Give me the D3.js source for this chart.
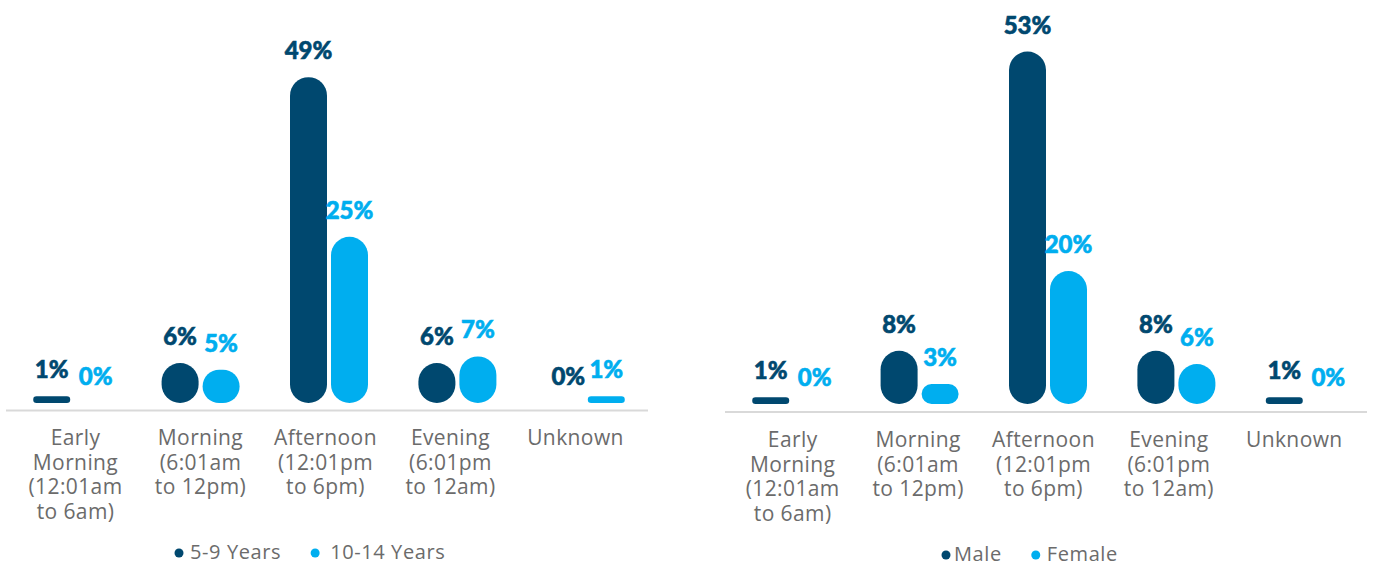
<!DOCTYPE html>
<html>
<head>
<meta charset="utf-8">
<script src="https://cdn.jsdelivr.net/npm/d3@7"></script>
<style>
  body { margin: 0; background: #fff; }
  svg { display: block; }
</style>
</head>
<body>
<script>
// categories, split into the lines shown under the axis
var categoryLines = [
  ["Early", "Morning", "(12:01am", "to 6am)"],
  ["Morning", "(6:01am", "to 12pm)"],
  ["Afternoon", "(12:01pm", "to 6pm)"],
  ["Evening", "(6:01pm", "to 12am)"],
  ["Unknown"]
];
var categories = ["Early Morning", "Morning", "Afternoon", "Evening", "Unknown"];

var ageSeries = ["5-9 Years", "10-14 Years"];
var age5to9 = [1, 6, 49, 6, 0];
var age10to14 = [0, 5, 25, 7, 1];

var genderSeries = ["Male", "Female"];
var male = [1, 8, 53, 8, 1];
var female = [0, 3, 20, 6, 0];

var dark = "#00486f", light = "#00aeef";

var width = 1375, height = 563;
var svg = d3.select("body").append("svg")
    .attr("width", width)
    .attr("height", height);

var y = d3.scaleLinear().domain([0, 100]).range([0, 665]);

function drawChart(opts) {
  var g = svg.append("g");
  var x0 = d3.scaleBand().domain(categories).range(opts.range);
  var xl = d3.scaleBand().domain(categories).range(opts.labelRange);
  var x1 = d3.scaleBand().domain(opts.series).range([0, 78]).paddingInner(0.0976);
  var colors = [dark, light];
  var values = [opts.a, opts.b];

  g.append("line")
    .attr("x1", opts.range[0] - 2).attr("x2", opts.range[1] - 2)
    .attr("y1", opts.axisY).attr("y2", opts.axisY)
    .attr("stroke", "#d9d9d9").attr("stroke-width", 2);

  opts.series.forEach(function(s, si) {
    var data = categories.map(function(c, i) { return {cat: c, v: values[si][i]}; });
    var bx = function(d) { return x0(d.cat) + x0.bandwidth() / 2 - 39 + x1(s); };
    var bw = x1.bandwidth();

    g.selectAll(".bar" + si)
      .data(data.filter(function(d) { return d.v > 0; }))
      .enter().append("rect")
      .attr("x", bx)
      .attr("y", function(d) { return opts.base - y(d.v); })
      .attr("width", bw)
      .attr("height", function(d) { return y(d.v); })
      .attr("rx", function(d) { return Math.min(bw, y(d.v)) / 2; })
      .attr("fill", colors[si]);

    g.selectAll(".lab" + si)
      .data(data)
      .enter().append("text")
      .attr("x", function(d) { return bx(d) + bw / 2 + (d.v === 0 ? 3 : 0); })
      .attr("y", function(d) { return opts.base - y(d.v) - 18; })
      .attr("text-anchor", "middle")
      .attr("font-family", "Lato")
      .attr("font-weight", 900)
      .attr("font-size", 24)
      .attr("fill", colors[si])
      .attr("stroke", colors[si])
      .attr("stroke-width", 0.6)
      .text(function(d) { return d.v + "%"; });
  });

  categories.forEach(function(c, i) {
    categoryLines[i].forEach(function(line, li) {
      g.append("text")
        .attr("x", xl(c) + xl.bandwidth() / 2)
        .attr("y", opts.catY + li * 24.5)
        .attr("text-anchor", "middle")
        .attr("font-family", "Open Sans")
        .attr("font-size", 21)
        .attr("letter-spacing", 0.4)
        .attr("fill", "#6b6b6b")
        .text(line);
    });
  });

  // legend
  var lg = g.append("g").attr("transform", "translate(" + opts.legendX + "," + opts.legendY + ")");
  var lx = 0;
  opts.series.forEach(function(s, si) {
    lg.append("circle").attr("cx", lx + 4).attr("cy", -6).attr("r", 4.5).attr("fill", colors[si]);
    var t = lg.append("text")
      .attr("x", lx + opts.legendPad[si]).attr("y", 0)
      .attr("font-family", "Open Sans")
      .attr("font-size", 20)
      .attr("letter-spacing", 0.6)
      .attr("fill", "#6b6b6b")
      .text(s);
    lx += opts.legendPad[si] + t.node().getComputedTextLength() + 30;
  });
}

drawChart({
  range: [8, 650], labelRange: [13, 638], base: 403, axisY: 410.5, catY: 445,
  series: ageSeries, a: age5to9, b: age10to14,
  legendX: 175, legendY: 559, legendPad: [15, 19]
});

drawChart({
  range: [727, 1369], labelRange: [730, 1357], base: 404, axisY: 412, catY: 447,
  series: genderSeries, a: male, b: female,
  legendX: 942, legendY: 561, legendPad: [12, 15]
});
</script>
</body>
</html>
